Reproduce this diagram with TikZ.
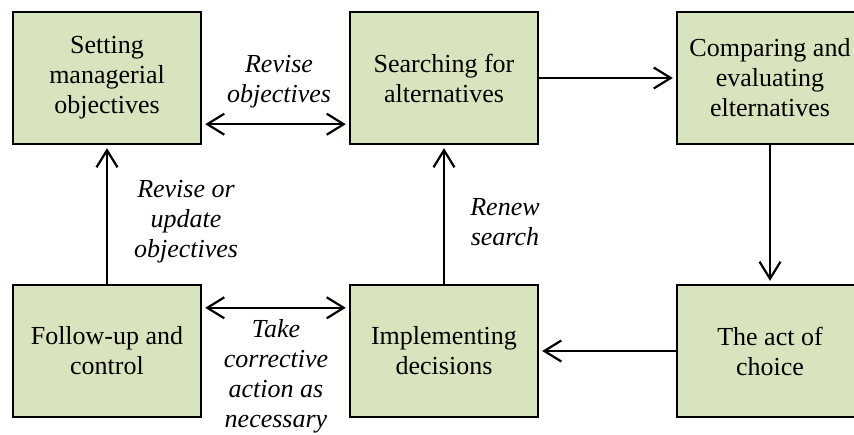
\documentclass[tikz,border=0pt]{standalone}
\usepackage{fontspec}
\setmainfont{Liberation Serif}
\usetikzlibrary{arrows.meta}
\definecolor{boxgreen}{HTML}{D7E4BD}
\tikzset{
  stagebox/.style={draw=black, line width=2.4pt, fill=boxgreen, minimum width=188pt,
    minimum height=132pt, inner sep=0pt, align=center, font=\fontsize{26}{30}\selectfont},
  stagelabel/.style={align=center, inner sep=0pt, font=\fontsize{26}{30}\selectfont\itshape},
  flow/.style={line width=2.2pt, -{Straight Barb[length=17pt,width=21pt]}, shorten >=3pt},
  twoway/.style={line width=2.2pt, {Straight Barb[length=17pt,width=21pt]}-{Straight Barb[length=17pt,width=21pt]},
    shorten >=3pt, shorten <=3pt}
}
\begin{document}
\begin{tikzpicture}[x=1pt,y=1pt]
  \useasboundingbox (0,0) rectangle (854,434);

% Add the six stages.
    \node[stagebox] (set) at (107,356) {Setting\\managerial\\objectives};
    \node[stagebox] (search) at (444,356) {Searching for\\alternatives};
    \node[stagebox, minimum width=186pt] (compare) at (770,356) {Comparing and\\evaluating\\elternatives};
    \node[stagebox] (follow) at (107,83) {Follow-up and\\control};
    \node[stagebox] (implement) at (444,83) {Implementing\\decisions};
    \node[stagebox, minimum width=186pt] (choice) at (770,83) {The act of\\choice};

% Labels beside the arrows
    \node[stagelabel] (revobj) at (279,352) {Revise\\objectives};
    \node[stagelabel] (revupd) at (186,212.5) {Revise or\\update\\objectives};
    \node[stagelabel] (renew) at (505,212) {Renew\\search};
    \node[stagelabel] (corrective) at (276,57.5) {Take\\corrective\\action as\\necessary};

% Main cycle
    \draw[flow] (search.east) -- (compare.west);
    \draw[flow] (compare.south) -- (choice.north);
    \draw[flow] (choice.west) -- (implement.east);
    \draw[flow] (implement.north) -- (search.south);
    \draw[flow] (follow.north) -- (set.south);

% Two-way arrows
    \draw[twoway] ([yshift=21pt]set.south east) -- ([yshift=21pt]search.south west);
    \draw[twoway] ([yshift=-24pt]follow.north east) -- ([yshift=-24pt]implement.north west);

\end{tikzpicture}
\end{document}
